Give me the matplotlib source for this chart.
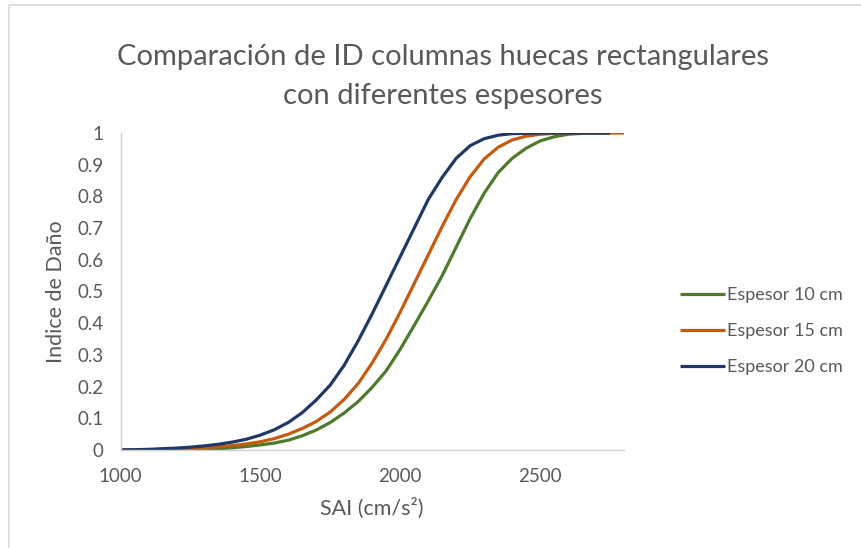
import matplotlib.pyplot as plt
from matplotlib.patches import Rectangle

sai = [1000, 1050, 1100, 1150, 1200, 1250, 1300, 1350, 1400, 1450,
       1500, 1550, 1600, 1650, 1700, 1750, 1800, 1850, 1900, 1950,
       2000, 2050, 2100, 2150, 2200, 2250, 2300, 2350, 2400, 2450,
       2500, 2550, 2600, 2650, 2700, 2750, 2800]

# Indice de Dano per thickness
esp_10 = [0.000, 0.000, 0.000, 0.001, 0.001, 0.002, 0.003, 0.004, 0.007, 0.011,
          0.016, 0.022, 0.031, 0.045, 0.063, 0.087, 0.117, 0.153, 0.198, 0.250,
          0.318, 0.393, 0.470, 0.550, 0.640, 0.730, 0.810, 0.875, 0.920, 0.952,
          0.975, 0.988, 0.996, 0.999, 1.000, 1.000]
esp_15 = [0.000, 0.000, 0.001, 0.002, 0.003, 0.005, 0.007, 0.010, 0.014, 0.019,
          0.026, 0.036, 0.050, 0.068, 0.090, 0.120, 0.160, 0.210, 0.275, 0.350,
          0.435, 0.525, 0.615, 0.705, 0.790, 0.862, 0.918, 0.955, 0.978, 0.990,
          0.996, 0.999, 1.000, 1.000, 1.000, 1.000, 1.000]
esp_20 = [0.000, 0.001, 0.002, 0.004, 0.006, 0.009, 0.013, 0.018, 0.025, 0.034,
          0.047, 0.064, 0.087, 0.118, 0.158, 0.205, 0.268, 0.345, 0.430, 0.520,
          0.610, 0.700, 0.790, 0.860, 0.920, 0.960, 0.982, 0.993, 0.998, 0.999,
          1.000, 1.000, 1.000, 1.000, 1.000, 1.000]

labels = ["Espesor 10 cm", "Espesor 15 cm", "Espesor 20 cm"]
colors = ["#4E7A2C", "#C55A11", "#203864"]
series = [esp_10, esp_15, esp_20]

plt.rcParams['font.family'] = ['Lato', 'DejaVu Sans']
txt = "#595959"

fig = plt.figure(figsize=(8.62, 5.48), dpi=100)
# chart area border
fig.patches.append(Rectangle((9 / 862, -0.1), 1.0, 1 - 5 / 548 + 0.1,
                             transform=fig.transFigure, fill=False,
                             edgecolor="#D9D9D9", linewidth=1.2))

ax = fig.add_axes([120.5 / 862, 1 - 450 / 548, (624 - 120.5) / 862, (450 - 133) / 548])
for ys, lab, c in zip(series, labels, colors):
    ax.plot(sai[:len(ys)], ys, color=c, linewidth=2.3, label=lab,
            solid_capstyle="butt", solid_joinstyle="round")

ax.set_xlim(1000, 2800)
ax.set_ylim(0, 1)
ax.set_xticks([1000, 1500, 2000, 2500])
ax.set_yticks([i / 10 for i in range(11)])
ax.set_yticklabels(["0"] + [f"0.{i}" for i in range(1, 10)] + ["1"])
ax.tick_params(length=0, labelsize=13.5, colors=txt)
ax.tick_params(axis="x", pad=13)
ax.tick_params(axis="y", pad=12)
for s in ["top", "right"]:
    ax.spines[s].set_visible(False)
for s in ["left", "bottom"]:
    ax.spines[s].set_color("#D0D0D0")
    ax.spines[s].set_linewidth(1.0)

ax.set_xlabel("SAI (cm/s²)", fontsize=15.5, color=txt, labelpad=9)
ax.set_ylabel("Indice de Daño", fontsize=15.5, color=txt, labelpad=8)

fig.text(443 / 862, 1 - 57 / 548, "Comparación de ID columnas huecas rectangulares",
         ha="center", va="center", fontsize=21, color=txt)
fig.text(443 / 862, 1 - 96 / 548, "con diferentes espesores",
         ha="center", va="center", fontsize=21, color=txt)

ax.legend(loc="center left", bbox_to_anchor=(1.078, 0.375), frameon=False,
          fontsize=13, labelcolor=txt, handlelength=2.5, handletextpad=0.15,
          labelspacing=1.1)

fig.savefig("out.png", dpi=100)
